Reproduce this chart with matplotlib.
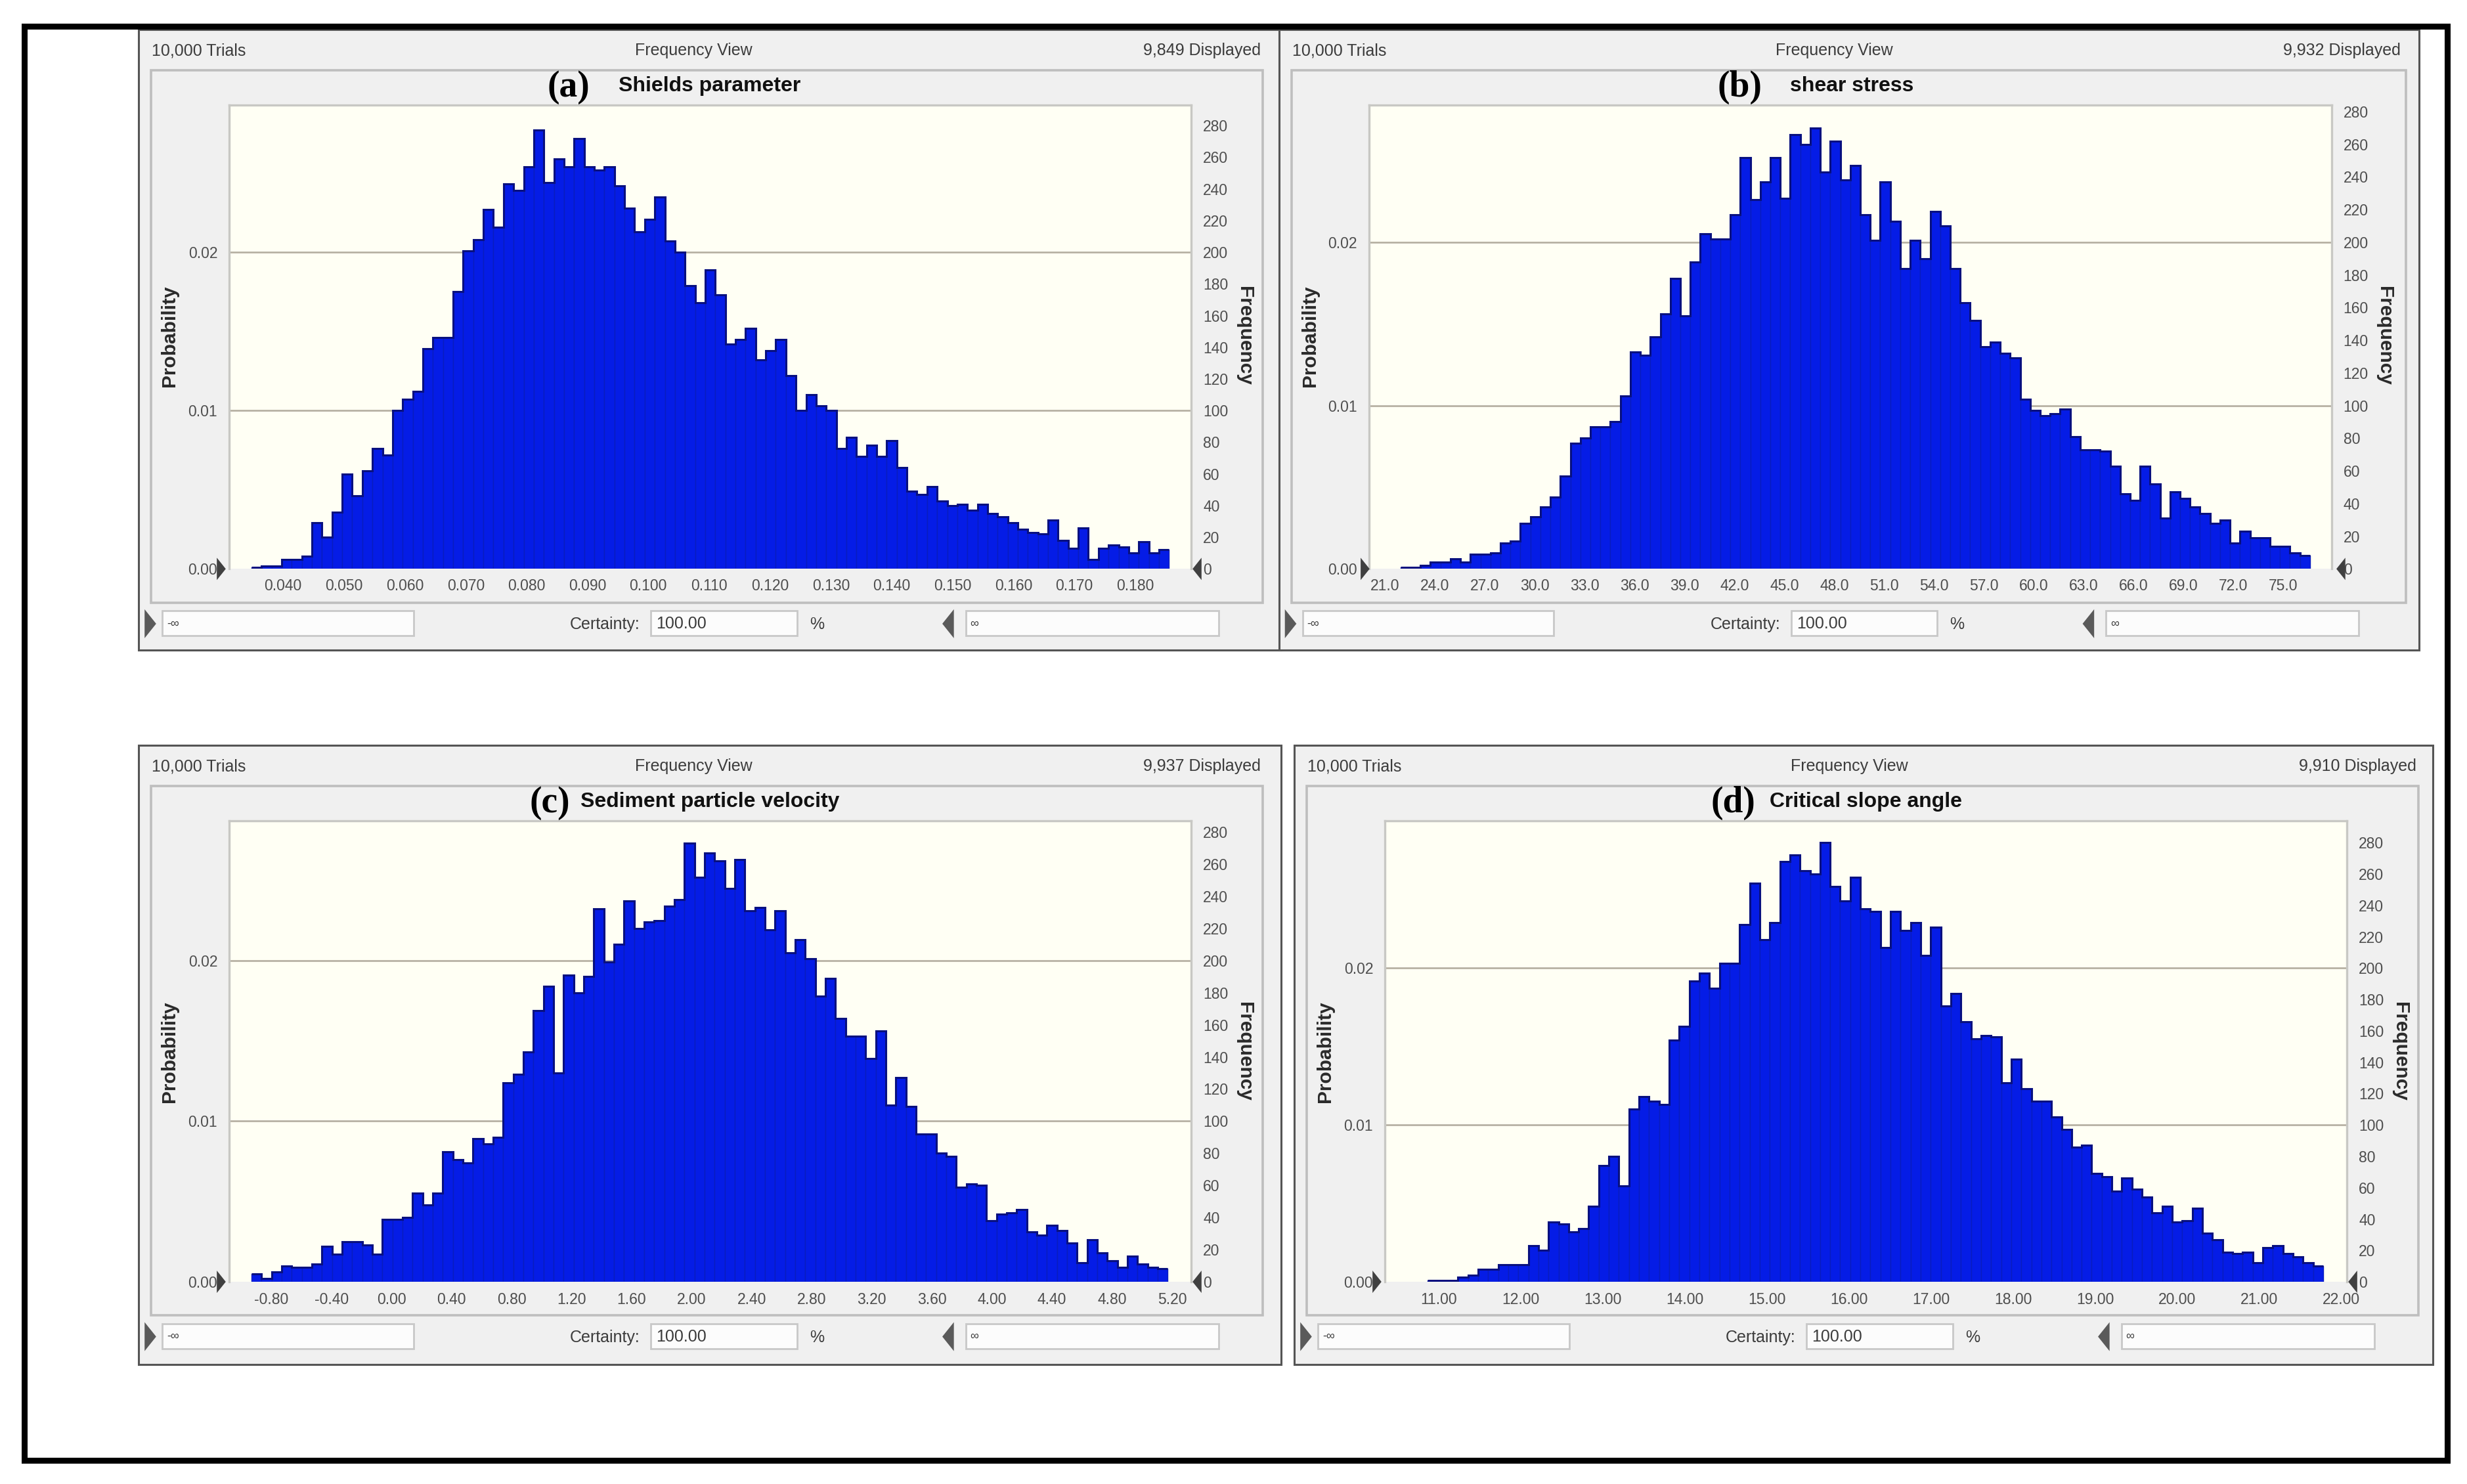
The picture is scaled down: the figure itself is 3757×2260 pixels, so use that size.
import matplotlib
matplotlib.use("Agg")
import matplotlib.pyplot as plt
from matplotlib.patches import Rectangle, Polygon
from matplotlib.transforms import Affine2D

W, H = 3757, 2260

freq_a = [1,2,2,6,6,8,29,20,36,60,46,62,76,72,100,107,112,139,146,146,175,201,208,227,216,243,239,254,277,244,
          259,254,272,254,252,254,242,228,213,221,235,207,200,179,168,189,173,142,145,152,132,138,145,122,100,110,103,100,76,83,
          71,78,71,81,64,49,47,52,43,40,41,37,41,35,33,29,25,23,22,31,18,13,26,6,13,15,14,10,17,10,12]
freq_b = [1,1,2,4,4,6,4,9,9,10,16,17,28,32,38,44,57,77,80,87,87,90,106,133,131,142,156,178,155,188,
          205,202,202,217,252,226,237,252,227,266,260,270,243,262,238,247,217,201,237,213,184,201,190,219,210,184,163,152,136,139,
          132,129,104,97,94,95,98,81,73,73,72,63,46,42,63,52,31,47,43,38,34,28,30,16,23,19,19,14,14,10,8]
freq_c = [5,2,6,10,9,9,11,22,17,25,25,23,17,39,39,40,55,48,55,81,76,74,89,86,90,124,129,143,169,184,
          130,191,180,190,232,199,210,237,220,224,225,234,238,273,252,267,262,245,263,231,233,219,231,205,213,201,178,189,164,153,
          153,139,156,110,127,109,92,92,80,78,59,61,60,38,42,43,45,31,29,35,32,24,12,26,18,13,9,16,11,9,8]
freq_d = [1,1,1,3,4,8,8,11,11,11,23,20,38,37,32,34,48,74,80,61,110,118,115,113,154,163,192,197,187,203,
          203,228,254,218,229,268,272,262,260,280,252,243,258,238,236,213,236,224,229,208,226,176,184,166,155,157,156,127,142,123,
          115,115,105,97,86,87,69,67,58,66,59,54,44,48,38,39,47,31,27,19,18,19,12,22,23,18,16,12,10]

ticks_a = ["0.040","0.050","0.060","0.070","0.080","0.090","0.100","0.110","0.120","0.130","0.140","0.150","0.160","0.170","0.180"]
ticks_b = ["21.0","24.0","27.0","30.0","33.0","36.0","39.0","42.0","45.0","48.0","51.0","54.0","57.0","60.0","63.0","66.0","69.0","72.0","75.0"]
ticks_c = ["-0.80","-0.40","0.00","0.40","0.80","1.20","1.60","2.00","2.40","2.80","3.20","3.60","4.00","4.40","4.80","5.20"]
ticks_d = ["11.00","12.00","13.00","14.00","15.00","16.00","17.00","18.00","19.00","20.00","21.00","22.00"]
freq_ticks = [0,20,40,60,80,100,120,140,160,180,200,220,240,260,280]
prob_ticks = ["0.00","0.01","0.02"]
titles = ["Shields parameter","shear stress","Sediment particle velocity","Critical slope angle"]
letters = ["(a)","(b)","(c)","(d)"]
displayed = ["9,849 Displayed","9,932 Displayed","9,937 Displayed","9,910 Displayed"]

# layout: crop coordinates of each panel (crop origin, chrome positions)
panels = [
  dict(f=freq_a, t=ticks_a, bx=200,  by=30,   dx=0,   xl=(.03116,.18921), bars=(.03479,.18557), ymax=293, L=10, R=1560, T=25, B=1552, iL=27,iR=1535,iT=125,iB=1435, pL=133,pR=1438,pT=210,y0=1352, ty=1393, fy=1487, tx=785, lx=593, title=0),
  dict(f=freq_b, t=ticks_b, bx=1950, by=30,   dx=-12, xl=(20.03,77.89),   bars=(21.93,76.6),    ymax=284, L=-2, R=1545, T=25, B=1552, iL=15,iR=1527,iT=125,iB=1435, pL=120,pR=1426,pT=210,y0=1352, ty=1393, fy=1487, tx=775, lx=623, title=1),
  dict(f=freq_c, t=ticks_c, bx=200,  by=1120, dx=0,   xl=(-1.08,5.327),   bars=(-.9325,5.17),   ymax=287, L=10, R=1560, T=25, B=1548, iL=27,iR=1535,iT=125,iB=1428, pL=133,pR=1438,pT=210,y0=1345, ty=1388, fy=1480, tx=785, lx=568, title=2),
  dict(f=freq_d, t=ticks_d, bx=1960, by=1120, dx=0,   xl=(10.344,22.07),  bars=(10.865,21.78),  ymax=294, L=10, R=1555, T=25, B=1548, iL=27,iR=1535,iT=125,iB=1428, pL=133,pR=1438,pT=210,y0=1345, ty=1388, fy=1480, tx=785, lx=605, title=3),
]
SX, SY = 1568/1760, 1568/970

plt.rcParams['font.family'] = ['Liberation Sans', 'DejaVu Sans']
fig = plt.figure(figsize=(W/100, H/100), dpi=100, facecolor='white')
T = Affine2D().scale(1/W, -1/H).translate(0, 1) + fig.transFigure

GRAY = '#3c3c3c'
TICK = '#4e4e4e'

def rect(x0, y0, x1, y1, fc='none', ec='none', lw=1, z=0):
    fig.add_artist(Rectangle((x0, y0), x1-x0, y1-y0, facecolor=fc, edgecolor=ec, linewidth=lw, transform=T, zorder=z))

def tri(x, y, d, size, color='#404040', z=4):
    fig.add_artist(Polygon([(x, y-size), (x, y+size), (x+d*size*0.8, y)], closed=True, facecolor=color, edgecolor='none', transform=T, zorder=z))

def txt(x, y, s, **kw):
    kw.setdefault('color', GRAY)
    kw.setdefault('ha', 'center')
    kw.setdefault('va', 'center')
    kw.setdefault('zorder', 5)
    fig.text(x, y, s, transform=T, **kw)

for i, p in enumerate(panels):
    X = lambda z: p['bx'] + z/SX
    Y = lambda z: p['by'] + z/SY
    D = p['dx']
    rect(X(p['L']), Y(p['T']), X(p['R']), Y(p['B']), fc='#F0F0F0', ec='#555555', lw=2.2, z=0.5)
    rect(X(p['iL']), Y(p['iT']), X(p['iR']), Y(p['iB']), fc='#F0F0F0', ec='#BEBEBE', lw=2.6, z=0.6)

    left, right, top, bot = X(p['pL']), X(p['pR']), Y(p['pT']), Y(p['y0'])
    ax = fig.add_axes([left/W, 1-bot/H, (right-left)/W, (bot-top)/H], zorder=1, facecolor='#FFFFF4')
    n = len(p['f'])
    lo, hi = p['bars']
    w = (hi-lo)/n
    ax.set_axisbelow(True)
    ax.bar([lo+(k+.5)*w for k in range(n)], p['f'], width=w, color='#051CE6', edgecolor='#0A1CBE', linewidth=1.0, zorder=3)
    ax.stairs(p['f'], [lo+k*w for k in range(n+1)], baseline=None, color='#08107F', linewidth=2.2, zorder=4)
    ax.set_xlim(*p['xl'])
    ax.set_ylim(0, p['ymax'])
    ax.set_xticks([float(s) for s in p['t']])
    ax.set_xticklabels(p['t'], fontsize=16.5, color=TICK)
    ax.tick_params(axis='x', length=0, pad=(p['ty']-p['y0'])/SY*0.72-8)
    ax.yaxis.tick_right()
    ax.set_yticks(freq_ticks)
    ax.set_yticklabels([str(v) for v in freq_ticks], fontsize=16.5, color=TICK)
    ax.tick_params(axis='y', length=0, pad=13)
    for g in (100, 200):
        ax.axhline(g, color='#B4AEA0', lw=1.9, zorder=1)
    for s in ax.spines.values():
        s.set_color('#C8C8C4')
        s.set_linewidth(2.4)
    ax.spines['bottom'].set_visible(False)
    sec = ax.secondary_yaxis('left', functions=(lambda f: f/10000, lambda q: q*10000))
    sec.set_yticks([float(s) for s in prob_ticks])
    sec.set_yticklabels(prob_ticks, fontsize=16.5, color=TICK)
    sec.tick_params(length=0, pad=13)
    for s in sec.spines.values():
        s.set_visible(False)

    midy = Y(778)
    txt(X(52+D), midy, "Probability", rotation=90, fontsize=21.5, fontweight='bold', color='#2a2a2a')
    txt(X(1510+D), midy, "Frequency", rotation=270, fontsize=21.5, fontweight='bold', color='#2a2a2a')
    txt(X(28+D), Y(76), "10,000 Trials", ha='left', fontsize=18)
    txt(X(763+D), Y(76), "Frequency View", fontsize=18)
    txt(X(1532+D), Y(76), displayed[i], ha='right', fontsize=18)
    txt(X(p['tx']), Y(163), titles[p['title']], fontsize=23, fontweight='bold', color='#111111')
    txt(X(p['lx']), Y(167), letters[i], fontsize=40, fontweight='bold', family='Liberation Serif', color='black')

    # chart sliders
    tri(X(116+D*0.6), bot, 1, 17)
    tri(X(1452+D*0.6), bot, -1, 17)

    # certainty row
    fy = p['fy']
    for a, b in ((42, 383), (705, 903), (1132, 1475)):
        rect(X(a+D), Y(fy-32), X(b+D), Y(fy+30), fc='#FCFCFC', ec='#C8C8C8', lw=2, z=0.7)
    txt(X(48+D), Y(fy), "-\u221e", ha='left', fontsize=13)
    txt(X(1138+D), Y(fy), "\u221e", ha='left', fontsize=13)
    txt(X(690+D), Y(fy+2), "Certainty:", ha='right', fontsize=18)
    txt(X(712+D), Y(fy), "100.00", ha='left', fontsize=18)
    txt(X(930+D), Y(fy+2), "%", fontsize=18)
    tri(X(18+D), Y(fy), 1, 22, color='#5a5a5a')
    tri(X(1116+D), Y(fy), -1, 22, color='#5a5a5a')

rect(36.5, 39.5, 3726.5, 2223.5, ec='black', lw=6.5, z=6)

fig.savefig('out.png', dpi=100, facecolor='white')
